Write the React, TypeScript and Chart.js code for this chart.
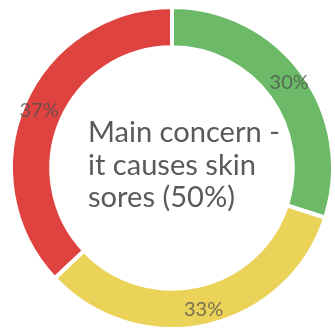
import React, { useEffect, useRef } from "react";
import { Chart, registerables } from "chart.js";

Chart.register(...registerables);

// Share of responses per segment, clockwise from 12 o'clock
const segmentLabels = ["Green", "Yellow", "Red"];
const segmentValues = [30, 33, 37];
const segmentColors = ["#6cba68", "#ebd35a", "#df4340"];
const centerLines = ["Main concern -", "it causes skin", "sores (50%)"];

const FONT = "Lato, 'Open Sans', 'DejaVu Sans', sans-serif";

// Percent labels sitting in the middle of each ring segment, nudged slightly outward
const percentLabels = {
  id: "percentLabels",
  afterDatasetsDraw(chart: any) {
    const ctx = chart.ctx;
    const meta = chart.getDatasetMeta(0);
    const values = chart.data.datasets[0].data as number[];
    ctx.save();
    ctx.font = `20px ${FONT}`;
    ctx.fillStyle = "rgba(80,80,80,0.75)";
    ctx.textAlign = "center";
    ctx.textBaseline = "middle";
    meta.data.forEach((arc: any, i: number) => {
      const { x, y, startAngle, endAngle, innerRadius, outerRadius } = arc.getProps(
        ["x", "y", "startAngle", "endAngle", "innerRadius", "outerRadius"],
        true
      );
      const mid = (startAngle + endAngle) / 2;
      const r = (innerRadius + outerRadius) / 2 + 4;
      ctx.fillText(`${values[i]}%`, x + Math.cos(mid) * r, y + Math.sin(mid) * r);
    });
    ctx.restore();
  },
};

// Caption block inside the hole
const centerText = {
  id: "centerText",
  afterDraw(chart: any) {
    const ctx = chart.ctx;
    const meta = chart.getDatasetMeta(0);
    const arc = meta.data[0];
    if (!arc) return;
    const cx = arc.x;
    const cy = arc.y;
    ctx.save();
    ctx.font = `27px ${FONT}`;
    const w = ctx.measureText(centerLines[0]).width;
    const size = (27 * 192) / w;
    ctx.font = `${size}px ${FONT}`;
    ctx.fillStyle = "#5a5a5a";
    ctx.textAlign = "left";
    ctx.textBaseline = "alphabetic";
    const left = cx - 84;
    const baselines = [cy - 26, cy + 7, cy + 39];
    centerLines.forEach((line, i) => ctx.fillText(line, left, baselines[i]));
    ctx.restore();
  },
};

export default function App() {
  const canvasRef = useRef<HTMLCanvasElement | null>(null);

  useEffect(() => {
    document.body.style.margin = "0";
    const canvas = canvasRef.current;
    if (!canvas) return;
    const chart = new Chart(canvas, {
      type: "doughnut",
      data: {
        labels: segmentLabels,
        datasets: [
          {
            data: segmentValues,
            backgroundColor: segmentColors,
            borderColor: "#ffffff",
            borderWidth: 4,
            hoverOffset: 0,
          },
        ],
      },
      options: {
        responsive: false,
        animation: false,
        cutout: "75%",
        rotation: 0,
        layout: { padding: { left: 9, right: 0, top: 3, bottom: 3 } },
        plugins: {
          legend: { display: false },
          tooltip: { enabled: false },
        },
      },
      plugins: [percentLabels, centerText],
    });
    return () => chart.destroy();
  }, []);

  return (
    <div style={{ position: "fixed", left: 0, top: 0, width: 335, height: 336, background: "#fff" }}>
      <canvas ref={canvasRef} width={335} height={336} />
    </div>
  );
}
